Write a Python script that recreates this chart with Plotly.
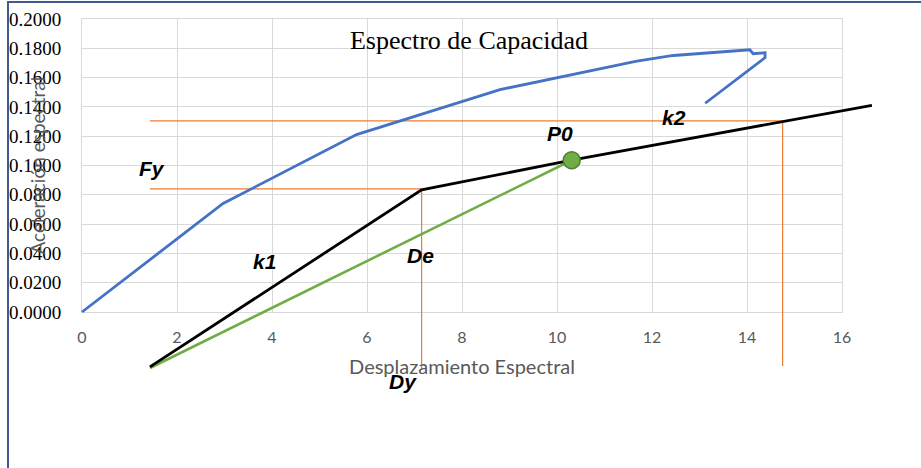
import plotly.graph_objects as go

# ---- data ----
blue_x = [0.0, 2.97, 5.78, 8.80, 11.68, 12.45, 14.06, 14.13, 14.38, 14.38, 13.12]
blue_y = [0.0, 0.0741, 0.1211, 0.1518, 0.1712, 0.1751, 0.1790, 0.1763, 0.1770, 0.1736, 0.1425]

black_x = [1.43, 7.15, 10.31, 16.63]
black_y = [-0.0375, 0.0834, 0.1036, 0.1411]

green_x = [1.43, 10.31]
green_y = [-0.0382, 0.1036]

p0_x = [10.31]
p0_y = [0.1036]

# orange guide lines (Fy / Dy and upper level)
fy_x = [1.43, 7.15, 7.15]
fy_y = [0.0840, 0.0840, -0.0395]
up_x = [1.43, 14.75, 14.75]
up_y = [0.1304, 0.1304, -0.0368]

labels_text = ["Fy", "k1", "De", "P0", "k2", "Dy"]
labels_x = [1.48, 3.85, 7.12, 10.06, 12.46, 6.76]
labels_y = [0.0981, 0.0348, 0.0388, 0.1220, 0.1329, -0.0477]

x_ticks = [0, 2, 4, 6, 8, 10, 12, 14, 16]
y_ticks = [0.0, 0.02, 0.04, 0.06, 0.08, 0.10, 0.12, 0.14, 0.16, 0.18, 0.20]

W, H = 921, 468
X0_PX, X16_PX = 82.0, 842.0
Y0_PX, Y02_PX = 312.0, 19.0
sx = (X16_PX - X0_PX) / 16.0
sy = (Y0_PX - Y02_PX) / 0.2

fig = go.Figure()

# invisible anchor trace so the gridded subplot (x, y) is created and drawn first
fig.add_trace(go.Scatter(x=[0], y=[0], mode="markers", marker=dict(opacity=0),
                         xaxis="x", yaxis="y", hoverinfo="skip"))

orange = "#ED7D31"
fig.add_trace(go.Scatter(x=fy_x, y=fy_y, mode="lines", line=dict(color=orange, width=1.2),
                         xaxis="x2", yaxis="y2", hoverinfo="skip"))
fig.add_trace(go.Scatter(x=up_x, y=up_y, mode="lines", line=dict(color=orange, width=1.2),
                         xaxis="x2", yaxis="y2", hoverinfo="skip"))
fig.add_trace(go.Scatter(x=green_x, y=green_y, mode="lines", line=dict(color="#70AD47", width=2.6),
                         xaxis="x2", yaxis="y2"))
fig.add_trace(go.Scatter(x=black_x, y=black_y, mode="lines", line=dict(color="#000000", width=2.8),
                         xaxis="x2", yaxis="y2"))
fig.add_trace(go.Scatter(x=blue_x, y=blue_y, mode="lines", line=dict(color="#4472C4", width=2.8),
                         xaxis="x2", yaxis="y2"))
fig.add_trace(go.Scatter(x=p0_x, y=p0_y, mode="markers",
                         marker=dict(size=17, color="#70AD47", line=dict(color="#507E32", width=1.5)),
                         xaxis="x2", yaxis="y2"))

for t, x, y in zip(labels_text, labels_x, labels_y):
    fig.add_annotation(x=x, y=y, xref="x2", yref="y2", text=t, showarrow=False,
                       font=dict(family="Liberation Sans", size=21, color="#000000",
                                 weight="bold", style="italic"))

# y axis title
fig.add_annotation(x=23 / W, y=1 - 166 / H, xref="paper", yref="paper",
                   text="Aceleración espectral", textangle=-90, showarrow=False,
                   font=dict(family="Lato", size=19, color="#595959"))

grid = "#D9D9D9"
fig.update_layout(
    width=W, height=H, autosize=False,
    margin=dict(l=0, r=0, t=0, b=0, pad=0, autoexpand=False),
    paper_bgcolor="white", plot_bgcolor="rgba(0,0,0,0)",
    showlegend=False,
    title=dict(text="Espectro de Capacidad", x=469 / W, xanchor="center",
               y=1 - 40 / H, yanchor="middle", automargin=False,
               font=dict(family="Liberation Serif", size=26, color="#000000")),
    xaxis=dict(domain=[X0_PX / W, X16_PX / W], range=[0, 16], tickvals=x_ticks,
               showgrid=True, gridcolor=grid, gridwidth=1, zeroline=False,
               showline=True, linecolor=grid, linewidth=1, mirror=True,
               ticks="", ticklabelstandoff=11, automargin=False,
               tickfont=dict(family="Lato", size=16, color="#595959"),
               title=dict(text="Desplazamiento Espectral", standoff=14,
                          font=dict(family="Lato", size=20, color="#595959")),
               anchor="y", fixedrange=True),
    yaxis=dict(domain=[1 - Y0_PX / H, 1 - Y02_PX / H], range=[0, 0.2], tickvals=y_ticks,
               tickformat=".4f",
               showgrid=True, gridcolor=grid, gridwidth=1, zeroline=False,
               showline=True, linecolor=grid, linewidth=1, mirror=True,
               ticks="", ticklabelstandoff=16, automargin=False,
               tickfont=dict(family="Liberation Serif", size=19, color="#000000"),
               anchor="x", fixedrange=True),
    xaxis2=dict(domain=[0, 1], range=[-X0_PX / sx, (W - X0_PX) / sx], visible=False,
                anchor="y2", fixedrange=True, automargin=False),
    yaxis2=dict(domain=[0, 1], range=[-(H - Y0_PX) / sy, Y0_PX / sy], visible=False,
                anchor="x2", fixedrange=True, automargin=False),
    shapes=[
        dict(type="line", xref="paper", yref="paper", x0=8 / W, x1=8 / W, y0=0, y1=1 - 1 / H,
             line=dict(color="#3F5B91", width=2)),
        dict(type="line", xref="paper", yref="paper", x0=8 / W, x1=1, y0=1 - 2 / H, y1=1 - 2 / H,
             line=dict(color="#3F5B91", width=2)),
    ],
)

fig.write_html("out.html", config={"displayModeBar": False},
               post_script="document.body.style.margin='0';document.body.style.padding='0';")
